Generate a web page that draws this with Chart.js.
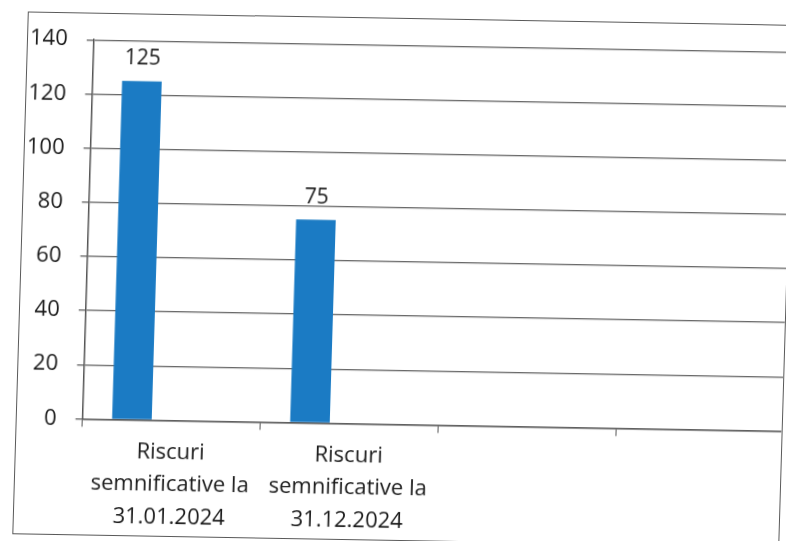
<!DOCTYPE html>
<html>
<head>
<meta charset="utf-8">
<script src="https://cdn.jsdelivr.net/npm/chart.js@4/dist/chart.umd.min.js"></script>
<style>
  html, body { margin: 0; padding: 0; background: #fff; }
  body { width: 786px; height: 541px; overflow: hidden; position: relative; }
  #frame {
    position: absolute; left: 20px; top: 18px; width: 767px; height: 523px;
    border: 1.5px solid #5a5a5a; box-sizing: border-box; overflow: hidden;
    transform: rotate(1deg) skewX(-0.7deg); transform-origin: 50% 50%;
  }
  #inner { position: absolute; left: -17px; top: -6px; width: calc(100% + 30px); height: calc(100% + 6px); }
</style>
</head>
<body>
<div id="frame"><div id="inner"><canvas id="chart"></canvas></div></div>
<script>
// Data
const categories = [
    ['Riscuri', 'semnificative la', '31.01.2024'],
    ['Riscuri', 'semnificative la', '31.12.2024'],
    '',
    ''
];
const riskValues = [125, 75, null, null];
// second series slot of the original chart is empty
const emptySeries = [null, null, null, null];
const yTicks = [0, 20, 40, 60, 80, 100, 120, 140];

const FONT = "'Open Sans', Lato, sans-serif";

// draws the value above each bar
const valueLabels = {
    id: 'valueLabels',
    afterDatasetsDraw(chart) {
        const ctx = chart.ctx;
        const meta = chart.getDatasetMeta(0);
        ctx.save();
        ctx.font = '21px ' + FONT;
        ctx.fillStyle = '#1a1a1a';
        ctx.textAlign = 'center';
        ctx.textBaseline = 'bottom';
        meta.data.forEach(function(bar, i) {
            if (riskValues[i] == null) return;
            ctx.fillText(String(riskValues[i]), bar.x, bar.y - 12);
        });
        ctx.restore();
    }
};

new Chart(document.getElementById('chart').getContext('2d'), {
    type: 'bar',
    data: {
        labels: categories,
        datasets: [
            {
                label: 'Riscuri',
                data: riskValues,
                backgroundColor: '#1b7bc4',
                borderWidth: 0,
                categoryPercentage: 0.89,
                barPercentage: 0.5
            },
            {
                label: '',
                data: emptySeries,
                backgroundColor: '#c0504d',
                categoryPercentage: 0.89,
                barPercentage: 0.5
            }
        ]
    },
    options: {
        responsive: true,
        maintainAspectRatio: false,
        animation: false,
        layout: {
            padding: { top: 16, left: 0, right: 0, bottom: -6 }
        },
        plugins: {
            legend: { display: false },
            tooltip: { enabled: false }
        },
        scales: {
            x: {
                grid: {
                    offset: true,
                    drawOnChartArea: false,
                    drawTicks: true,
                    tickLength: 8,
                    color: '#555'
                },
                border: { color: '#555', width: 1.5 },
                ticks: {
                    color: '#1a1a1a',
                    padding: 8,
                    maxRotation: 0,
                    autoSkip: false,
                    font: { family: FONT, size: 22, lineHeight: 1.48 }
                }
            },
            y: {
                min: 0,
                max: 140,
                afterBuildTicks(axis) {
                    axis.ticks = yTicks.map(function(v) { return { value: v }; });
                },
                grid: {
                    color: '#5f5f5f',
                    lineWidth: 1.3,
                    tickLength: 7
                },
                border: { color: '#555', width: 1.5 },
                ticks: {
                    color: '#1a1a1a',
                    padding: 19,
                    font: { family: FONT, size: 22 }
                }
            }
        }
    },
    plugins: [valueLabels]
});
</script>
</body>
</html>
